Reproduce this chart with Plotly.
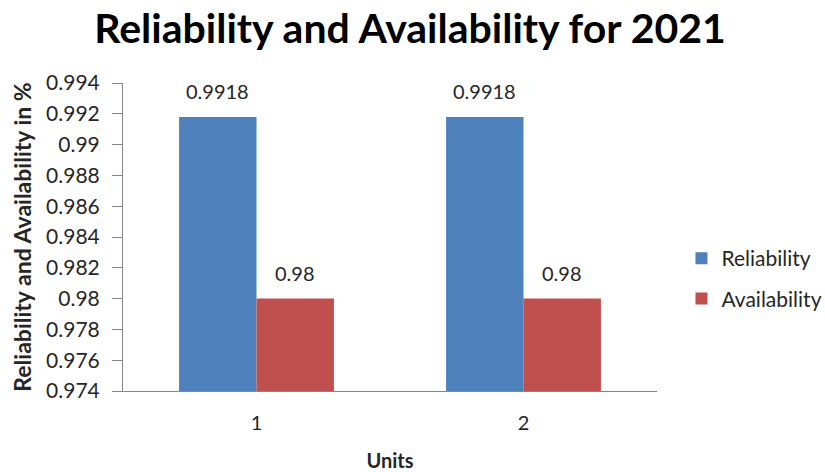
import plotly.graph_objects as go

units = ["1", "2"]
reliability = [0.9918, 0.9918]
availability = [0.98, 0.98]
y_ticks = [0.974, 0.976, 0.978, 0.98, 0.982, 0.984, 0.986, 0.988, 0.99, 0.992, 0.994]
y_tick_text = ["0.974", "0.976", "0.978", "0.98", "0.982", "0.984", "0.986", "0.988", "0.99", "0.992", "0.994"]

FONT = "Lato, 'Open Sans', sans-serif"
AXIS_GREY = "#868686"
TEXT_COLOR = "#262626"

W, H = 825, 472
MARGIN = dict(l=123, r=168, t=83, b=81)
BARGAP = 0.42

series = [
    ("Reliability", reliability, "#4F81BD"),
    ("Availability", availability, "#C0504D"),
]

fig = go.Figure()
for name, values, color in series:
    fig.add_trace(go.Bar(
        name=name, x=units, y=values, base=0,
        marker=dict(color=color, line=dict(width=0)),
        legendgroup=name,
    ))

# value labels above each bar, shifted to the centre of its bar within the group
plot_w = W - MARGIN["l"] - MARGIN["r"]
cat_w = plot_w / len(units)
bar_w = cat_w * (1 - BARGAP) / len(series)
annotations = []
for i, (name, values, color) in enumerate(series):
    dx = (i - (len(series) - 1) / 2) * bar_w
    for k, v in enumerate(values):
        annotations.append(dict(
            x=k, y=v, xref="x", yref="y", text=f"{v:g}", showarrow=False,
            xanchor="center", yanchor="bottom", xshift=dx, yshift=12,
            font=dict(size=20, color=TEXT_COLOR, family=FONT),
        ))

fig.update_layout(
    width=W, height=H,
    margin=MARGIN,
    paper_bgcolor="white", plot_bgcolor="white",
    barmode="group", bargap=BARGAP, bargroupgap=0,
    font=dict(family=FONT, color=TEXT_COLOR, size=20),
    annotations=annotations,
    title=dict(
        text="<b>Reliability and Availability for 2021</b>",
        x=0.497, xanchor="center", xref="container", y=0.94, yanchor="middle",
        font=dict(size=41, color="black", family=FONT),
    ),
    xaxis=dict(
        type="category", range=[-0.5, len(units) - 0.5], automargin=False,
        showline=True, linecolor=AXIS_GREY, linewidth=1, ticks="",
        tickfont=dict(size=20), showgrid=False, ticklabelstandoff=14,
        title=dict(text="<b>Units</b>", font=dict(size=20), standoff=25),
    ),
    yaxis=dict(
        range=[0.974, 0.994], tickvals=y_ticks, ticktext=y_tick_text, automargin=False,
        showline=True, linecolor=AXIS_GREY, linewidth=1,
        ticks="outside", ticklen=10, tickcolor=AXIS_GREY, ticklabelstandoff=8,
        tickfont=dict(size=21), showgrid=False, zeroline=False,
        title=dict(text="<b>Reliability and Availability in %</b>", font=dict(size=23), standoff=8),
    ),
    legend=dict(
        xref="container", x=0.826, xanchor="left", yref="container", y=0.41, yanchor="middle",
        font=dict(size=21), itemsizing="constant",
        traceorder="grouped", tracegroupgap=10, itemwidth=30,
    ),
)

fig.write_html("out.html")
